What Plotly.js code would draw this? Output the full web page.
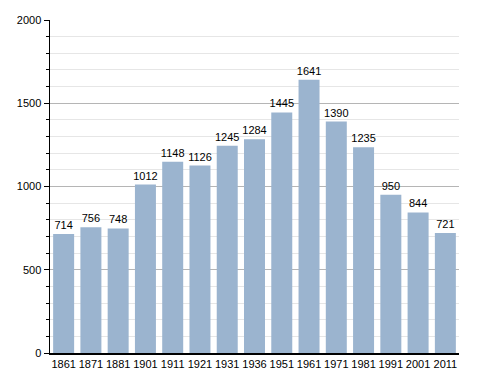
<!DOCTYPE html>
<html><head><meta charset="utf-8">
<script src="https://cdn.plot.ly/plotly-3.0.1.min.js"></script>
<style>body{margin:0;background:#fff}#c{width:488px;height:373px}</style>
</head><body><div id="c"></div>
<script>
var years = ["1861","1871","1881","1901","1911","1921","1931","1936","1951","1961","1971","1981","1991","2001","2011"];
var population = [714,756,748,1012,1148,1126,1245,1284,1445,1641,1390,1235,950,844,721];
var yTicks = [0,500,1000,1500,2000];

Plotly.newPlot('c', [{
  type:'bar', x:years, y:population,
  text:population.map(String), textposition:'outside', cliponaxis:false, constraintext:'none',
  textfont:{family:'Liberation Sans, Arial, sans-serif', size:11, color:'#000'},
  marker:{color:'#9bb4cf'}, hoverinfo:'none'
}], {
  width:488, height:373,
  margin:{l:50, r:29, t:20, b:20},
  paper_bgcolor:'#fff', plot_bgcolor:'#fff',
  bargap:0.23, showlegend:false,
  font:{family:'Liberation Sans, Arial, sans-serif', size:11, color:'#000'},
  xaxis:{type:'category', showline:true, linecolor:'#000', linewidth:1.5, ticks:'', ticklen:0, tickfont:{size:11}, showgrid:false, zeroline:false},
  yaxis:{range:[0,2000], tickvals:yTicks, ticktext:yTicks.map(String), showline:true, linecolor:'#000', linewidth:1.5,
    ticks:'outside', ticklen:5, tickcolor:'#000', showgrid:true, gridcolor:'#b5b5b5', gridwidth:1, zeroline:false,
    minor:{dtick:100, ticks:'outside', ticklen:3, tickcolor:'#000', showgrid:true, gridcolor:'#e6e6e6', gridwidth:1}}
}, {staticPlot:true});
</script></body></html>
